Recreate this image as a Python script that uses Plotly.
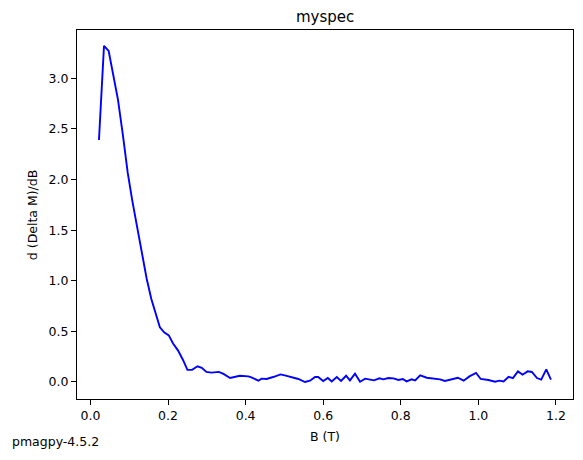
import plotly.graph_objects as go

# field steps (T) and derivative values
B = [0.022, 0.035, 0.047, 0.059, 0.071, 0.084, 0.096, 0.108, 0.120, 0.133,
     0.145, 0.157, 0.169, 0.179, 0.190, 0.202, 0.213, 0.226, 0.239, 0.250,
     0.262, 0.276, 0.287, 0.299, 0.312, 0.331, 0.343, 0.360, 0.385, 0.407,
     0.415, 0.433, 0.441, 0.454, 0.471, 0.490, 0.501, 0.519, 0.536, 0.553,
     0.566, 0.579, 0.587, 0.600, 0.612, 0.622, 0.635, 0.646, 0.659, 0.669,
     0.682, 0.695, 0.708, 0.721, 0.731, 0.745, 0.755, 0.768, 0.781, 0.794,
     0.805, 0.815, 0.828, 0.837, 0.850, 0.867, 0.884, 0.901, 0.914, 0.932,
     0.947, 0.962, 0.977, 0.994, 1.006, 1.026, 1.043, 1.054, 1.065, 1.078,
     1.089, 1.102, 1.114, 1.127, 1.138, 1.151, 1.162, 1.175, 1.187]
dMdB = [2.39, 3.32, 3.27, 3.03, 2.79, 2.43, 2.07, 1.79, 1.53, 1.26,
        1.02, 0.82, 0.66, 0.54, 0.49, 0.46, 0.38, 0.31, 0.215, 0.12,
        0.12, 0.155, 0.14, 0.10, 0.093, 0.10, 0.08, 0.04, 0.062, 0.055,
        0.045, 0.013, 0.033, 0.030, 0.049, 0.075, 0.065, 0.049, 0.030, 0.0,
        0.013, 0.049, 0.049, 0.010, 0.039, 0.006, 0.049, 0.010, 0.062, 0.016,
        0.082, 0.003, 0.033, 0.023, 0.016, 0.036, 0.026, 0.039, 0.036, 0.020,
        0.030, 0.006, 0.026, 0.016, 0.065, 0.042, 0.033, 0.026, 0.010, 0.026,
        0.042, 0.013, 0.055, 0.089, 0.030, 0.020, 0.003, 0.013, 0.006, 0.052,
        0.039, 0.105, 0.072, 0.105, 0.099, 0.039, 0.023, 0.124, 0.023]

xticks = [0.0, 0.2, 0.4, 0.6, 0.8, 1.0, 1.2]
yticks = [0.0, 0.5, 1.0, 1.5, 2.0, 2.5, 3.0]

fig = go.Figure()
fig.add_trace(
    go.Scatter(
        x=B,
        y=dMdB,
        mode="lines",
        line={"color": "#0000ff", "width": 1.9},
        showlegend=False,
    )
)

axis_style = dict(
    showline=True,
    linecolor="black",
    linewidth=1,
    mirror=True,
    ticks="outside",
    ticklen=5,
    tickwidth=1,
    tickcolor="black",
    showgrid=False,
    zeroline=False,
    automargin=False,
    tickfont={"size": 12.5, "color": "black"},
    tickformat=".1f",
)

# page body has an 8px margin, so the figure is shrunk by 16px and shifted
fig.update_layout(
    width=567,
    height=444,
    margin={"l": 69, "r": 2, "t": 22, "b": 53, "autoexpand": False},
    paper_bgcolor="white",
    plot_bgcolor="white",
    font=dict(family="DejaVu Sans, sans-serif", size=12.5, color="black"),
    xaxis=dict(axis_style, range=[-0.0346, 1.2439], tickvals=xticks),
    yaxis=dict(axis_style, range=[-0.168, 3.477], tickvals=yticks),
    annotations=[
        dict(text="myspec", xref="paper", yref="paper", x=0.5, y=1.0,
             yshift=13, xanchor="center", yanchor="middle",
             showarrow=False, font={"size": 15}),
        dict(text="B (T)", xref="paper", yref="paper", x=0.5, y=-0.102,
             xanchor="center", yanchor="middle", showarrow=False),
        dict(text="d (Delta M)/dB", xref="paper", yref="paper", x=-0.0894,
             y=0.5, textangle=-90, xanchor="center", yanchor="middle",
             showarrow=False),
        dict(text="pmagpy-4.5.2", xref="paper", yref="paper",
             x=-0.1359, y=-0.1156, xanchor="left", yanchor="middle",
             showarrow=False),
    ],
)

fig.write_html("out.html")
